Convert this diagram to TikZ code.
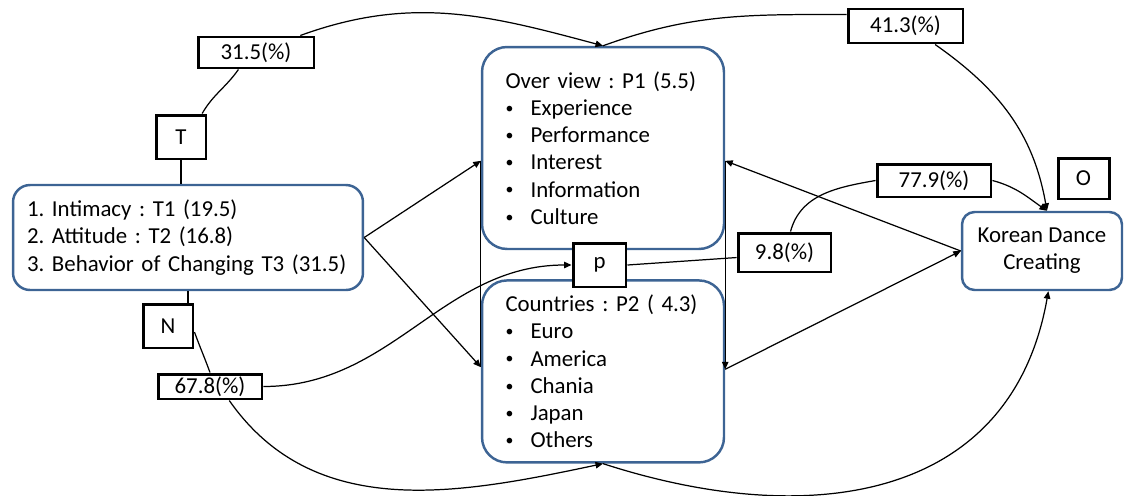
\documentclass[tikz,border=0pt]{standalone}
\usepackage{fontspec}
\setmainfont{Carlito}
\usepackage{tikz}
\usetikzlibrary{arrows.meta,positioning}
\definecolor{BoxBlue}{HTML}{3D6494}
\newcommand{\dotitem}[1]{\makebox[0.5cm][l]{\raisebox{0.1em}{\fontsize{9}{9}\selectfont\textbullet}}#1}

\begin{document}
\begin{tikzpicture}[
		x=0.02cm,y=0.02cm,
		font=\fontsize{13}{15.5}\selectfont\frenchspacing,
		group/.style={draw=BoxBlue,line width=1.4pt,rounded corners=0.5cm,fill=white,align=left},
		lbl/.style={draw=black,line width=1.7pt,fill=white,inner sep=0pt,align=center},
		ln/.style={line width=0.7pt},
		arr/.style={ln,-{Triangle[length=1.5mm,width=1.3mm]}}
	]
	\useasboundingbox (0,0) rectangle (1125,495);
	\node[group,rounded corners=0.34cm,text width=6.44cm,inner xsep=0.28cm,minimum height=2.1cm] (factors) at (188,257.5) {1. Intimacy : T1 (19.5)\\2. Attitude : T2 (16.8)\\3. Behavior of Changing T3 (31.5)};
	\node[group,text width=3.9cm,inner xsep=0.47cm,minimum height=4.04cm] (overview) at (603,347) {Over view : P1 (5.5)\\\dotitem{Experience}\\\dotitem{Performance}\\\dotitem{Interest}\\\dotitem{Information}\\\dotitem{Culture}};
	\node[group,text width=3.9cm,inner xsep=0.47cm,minimum height=3.64cm,below=0.58cm of overview] (countries) {Countries : P2 ( 4.3)\\\dotitem{Euro}\\\dotitem{America}\\\dotitem{Chania}\\\dotitem{Japan}\\\dotitem{Others}};
	\node[group,rounded corners=0.25cm,align=center,minimum width=3.2cm,minimum height=1.56cm] (korean) at (1042,244) {Korean Dance\\Creating};
	\node[lbl,minimum width=1cm,minimum height=0.88cm] (t) at (181,358) {T};
	\node[lbl,minimum width=1cm,minimum height=0.88cm] (n) at (168,169) {N};
	\node[lbl,minimum width=1.06cm,minimum height=0.88cm] (p) at (599.5,230) {p};
	\node[lbl,minimum width=1.02cm,minimum height=0.82cm] (o) at (1083.5,316.5) {O};
	\node[lbl,minimum width=2.32cm,minimum height=0.62cm] (v315) at (256,442.5) {31.5(\%)};
	\node[lbl,minimum width=2.3cm,minimum height=0.68cm] (v413) at (905.5,469) {41.3(\%)};
	\node[lbl,minimum width=2.28cm,minimum height=0.66cm] (v779) at (934,314.5) {77.9(\%)};
	\node[lbl,minimum width=1.86cm,minimum height=0.78cm] (v98) at (784.5,242.5) {9.8(\%)};
	\node[lbl,minimum width=2.08cm,minimum height=0.5cm] (v678) at (210,108.5) {67.8(\%)};
	\draw[ln] (t.south) -- (t.south |- factors.north);
	\draw[ln] (factors.south) -- (factors.south |- n.north);
	\draw[ln] (t.48) to[out=60,in=-125] (v315.224);
	\draw[arr] (v315.21) to[out=20,in=165] (overview.north);
	\draw[ln] (overview.north) to[out=20,in=180] (v413.169);
	\draw[arr] (v413.328) to[out=-35,in=100] (korean.83);
	\draw[arr] (v779.east) to[out=-15,in=145] (korean.83);
	\draw[ln] (v98.74) to[out=75,in=190] (v779.west);
	\draw[ln] (p.east) -- (v98.186);
	\draw[arr] (v678.east) to[out=0,in=180] (p.west);
	\draw[ln] (n.-13) to[out=-70,in=110] (v678.north);
	\draw[arr] (v678.324) to[out=-55,in=192] (countries.south);
	\draw[arr] (countries.south) to[out=-18,in=-100,looseness=1.15] (korean.279);
	\draw[arr] (factors.east) -- (overview.186);
	\draw[arr] (factors.east) -- (countries.178);
	\draw[ln] (overview.186) -- (countries.178);
	\draw[arr] (korean.west) -- (overview.354);
	\draw[arr] (countries.1) -- (korean.west);
	\draw[arr] (overview.354) -- (countries.1);
\end{tikzpicture}
\end{document}
